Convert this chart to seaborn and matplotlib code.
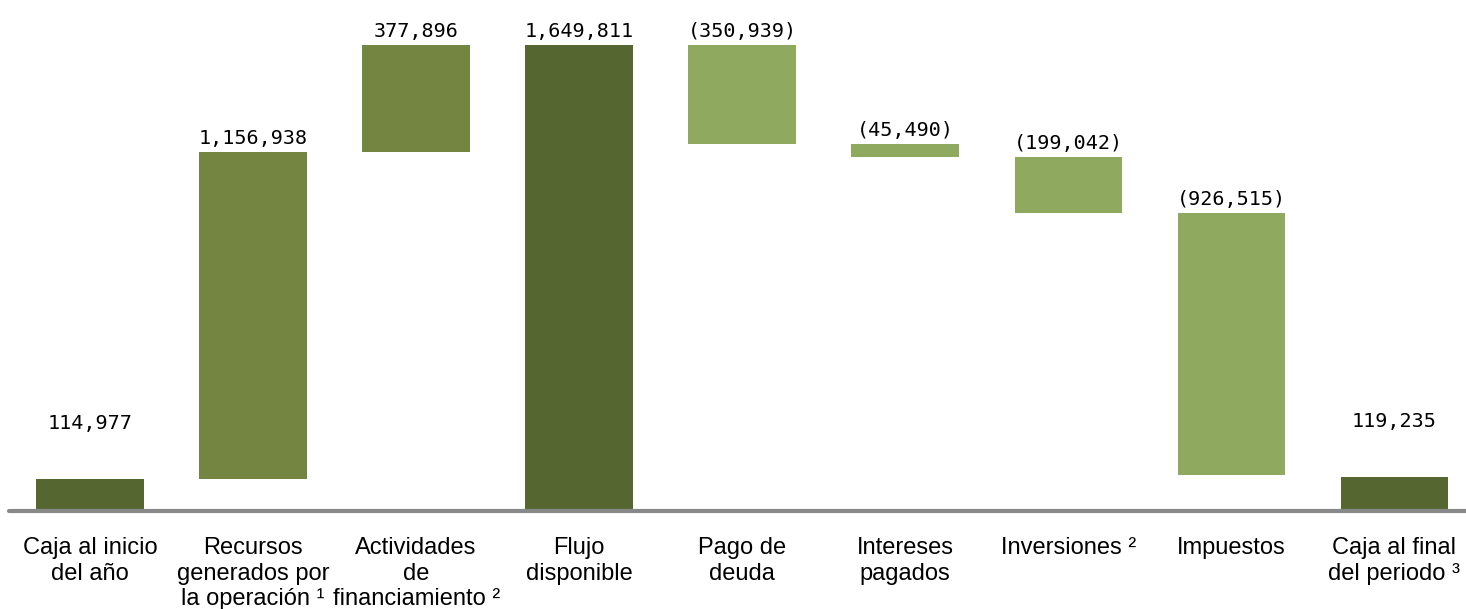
import matplotlib
matplotlib.use("Agg")
import matplotlib.pyplot as plt
import seaborn as sns

# 数据
categorias = [
    "Caja al inicio\ndel año",
    "Recursos\ngenerados por\nla operación ¹",
    "Actividades\nde\nfinanciamiento ²",
    "Flujo\ndisponible",
    "Pago de\ndeuda",
    "Intereses\npagados",
    "Inversiones ²",
    "Impuestos",
    "Caja al final\ndel periodo ³",
]
valores = [114977, 1156938, 377896, 1649811, -350939, -45490, -199042, -926515, 119235]
tipos = ["total", "sube", "sube", "total", "baja", "baja", "baja", "baja", "total"]

colores = {"total": "#556630", "sube": "#738540", "baja": "#8FA95E"}

sns.set_theme(style="white")
plt.rcParams["font.family"] = ["Liberation Sans", "DejaVu Sans"]

# 计算瀑布图的底部和高度
bases, alturas = [], []
acumulado = 0
for v, t in zip(valores, tipos):
    if t == "total":
        bases.append(0)
        alturas.append(v)
        acumulado = v
    else:
        bases.append(acumulado if v > 0 else acumulado + v)
        alturas.append(abs(v))
        acumulado += v

fig = plt.figure(figsize=(14.66, 6.09), dpi=100)
ax = fig.add_axes([8.5 / 1466, 98 / 609, 1467.5 / 1466, 511 / 609])

sns.barplot(x=categorias, y=alturas, bottom=bases, color=colores["total"],
            width=0.66, errorbar=None, saturation=1, ax=ax)
for p, t in zip(ax.patches, tipos):
    p.set_facecolor(colores[t])
    p.set_edgecolor("none")

# 数值标签
for i, (b, h, v) in enumerate(zip(bases, alturas, valores)):
    texto = f"{v:,}" if v >= 0 else f"({-v:,})"
    off = 33 if i in (0, len(valores) - 1) else 3
    ax.annotate(texto, (i, b + h), xytext=(0, off), textcoords="offset points",
                ha="center", va="bottom", fontsize=14.5, family="DejaVu Sans Mono",
                color="black")

ax.axhline(0, color="#888888", lw=3, zorder=5, clip_on=False)
ax.set_xlim(-0.5, len(categorias) - 0.5)
ax.set_ylim(0, max(valores) * 511 / 466)
ax.set_yticks([])
ax.set_ylabel("")
sns.despine(ax=ax, left=True, bottom=True)
ax.tick_params(axis="x", length=0, pad=19, labelsize=17)
for lab in ax.get_xticklabels():
    lab.set_linespacing(1.2)
    lab.set_color("black")

fig.savefig("out.png", dpi=100)
